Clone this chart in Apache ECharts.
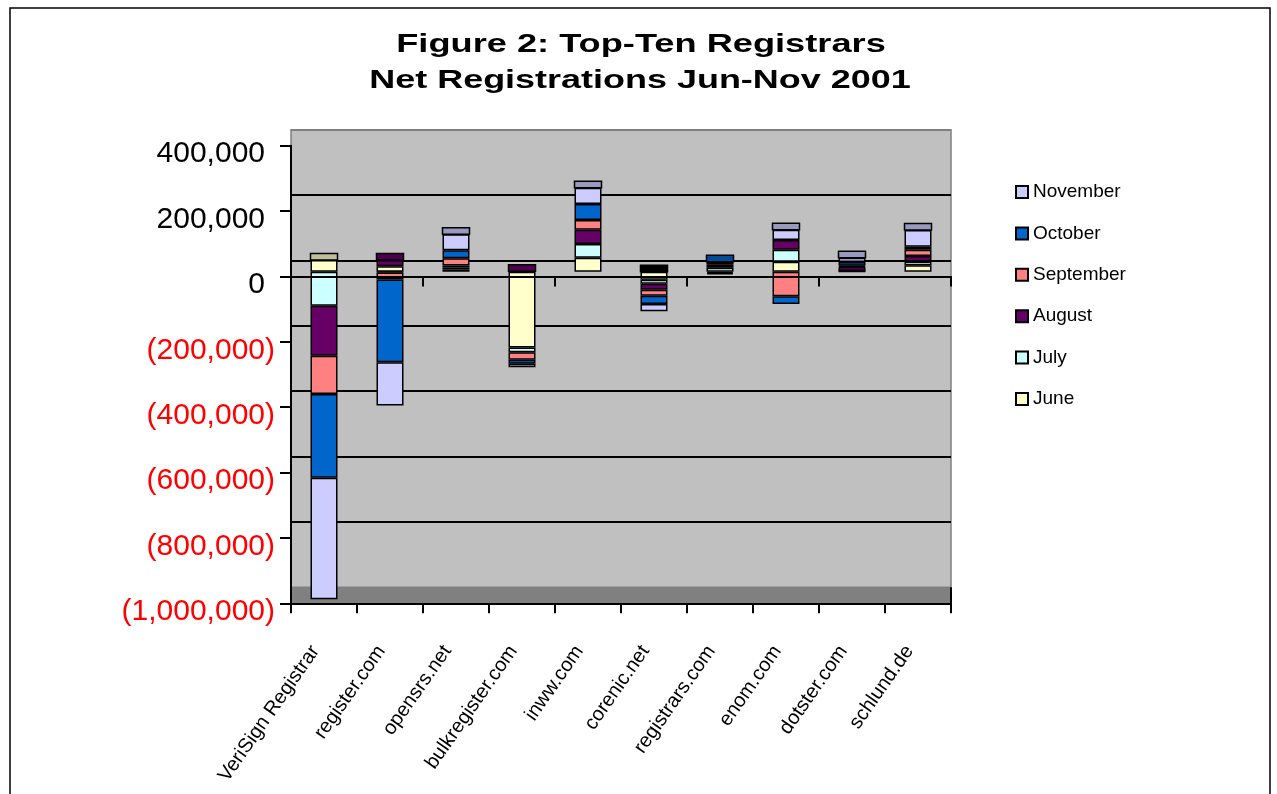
<!DOCTYPE html>
<html>
<head>
<meta charset="utf-8">
<script src="https://cdn.jsdelivr.net/npm/echarts@6/dist/echarts.min.js"></script>
<style>
html,body{margin:0;padding:0;background:#fff;}
#chart{width:1277px;height:794px;}
</style>
</head>
<body>
<div id="chart"></div>
<script>
// ---- data ----
const categories = ['VeriSign Registrar','register.com','opensrs.net','bulkregister.com','inww.com','corenic.net','registrars.com','enom.com','dotster.com','schlund.de'];
const months = ['June','July','August','September','October','November'];
const june      = [  36000,   17000,  7000, -232000, 43000, -24500,  -4000,  30600,  1000, 20000];
const july      = [-104000,   -2000,  6000,  -14000, 42000, -12000,  12000,  36700,  1000, 11300];
const august    = [-153000,   19000,  6000,    1500, 43700, -18400,   5500,  29700, 13000, 16800];
const september = [-117000,  -22000, 22300,  -23600, 29700, -18400,   5500, -75300,  3000, 19000];
const october   = [-256000, -253000, 24500,  -12200, 49000, -25400,   7500, -23600, 12000,  9500];
const november  = [-372000, -132500, 49000,  -10100, 49900, -22300,  -4000,  31500, 13000, 51100];
const yTicks = [-1000000, -800000, -600000, -400000, -200000, 0, 200000, 400000];

// ---- styles ----
const seriesValues = [june, july, august, september, october, november];
const colors    = ['#FFFFCC','#CCFFFF','#660066','#FF8080','#0066CC','#CCCCFF'];
const capColors = ['#BFBF99','#99BFBF','#4C004C','#BF6060','#004C99','#9999BF'];
const FONT = '"Liberation Sans", Arial, sans-serif';
const L = 291, W = 660, H = 457.6;
const BAR_W = 27, CAP_H = 6.5;

// top faces of the 3D columns (derived from the data)
const capData = categories.map((c, i) => {
  let pos = 0, top = -1;
  seriesValues.forEach((s, k) => { if (s[i] > 0) { pos += s[i]; top = k; } });
  return { value: [i, pos], color: top >= 0 ? capColors[top] : '#000000' };
});

function fmt(v) { return Math.abs(v).toLocaleString('en-US'); }

const chart = echarts.init(document.getElementById('chart'));
const option = {
  backgroundColor: '#ffffff',
  animation: false,
  graphic: [
    { type: 'rect', z: 0, shape: { x: 10, y: 8, width: 1260, height: 800 },
      style: { fill: 'none', stroke: '#000', lineWidth: 1.5 } },
    { type: 'rect', z: 1, shape: { x: L, y: 587.3, width: W, height: 16 },
      style: { fill: '#808080' } },
    { type: 'line', z: 6, shape: { x1: L + W, y1: 587.3, x2: L + W, y2: 603.3 },
      style: { stroke: '#000', lineWidth: 2 } },
    { type: 'text', z: 5, x: 641, y: 44.5, scaleX: 1.42,
      style: { text: 'Figure 2: Top-Ten Registrars', font: 'bold 25.5px ' + FONT, fill: '#000',
               textAlign: 'center', textVerticalAlign: 'middle', align: 'center', verticalAlign: 'middle' } },
    { type: 'text', z: 5, x: 640, y: 81, scaleX: 1.41,
      style: { text: 'Net Registrations Jun-Nov 2001', font: 'bold 25.5px ' + FONT, fill: '#000',
               textAlign: 'center', textVerticalAlign: 'middle', align: 'center', verticalAlign: 'middle' } }
  ],
  legend: {
    data: months.slice().reverse(),
    orient: 'vertical',
    left: 1010,
    top: 177,
    icon: 'rect',
    itemWidth: 12,
    itemHeight: 12,
    itemGap: 21.4,
    textStyle: { fontFamily: FONT, fontSize: 19, color: '#000', lineHeight: 20 }
  },
  grid: [
    { left: L, top: 129.7, width: W, height: H, show: true, backgroundColor: '#C0C0C0',
      borderColor: '#808080', borderWidth: 1.5, containLabel: false },
    { left: L, top: 145.7, width: W, height: H, containLabel: false },
    { left: L, top: 141.0, width: W, height: H, containLabel: false }
  ],
  xAxis: [
    { gridIndex: 0, type: 'category', data: categories, show: false },
    { gridIndex: 1, type: 'category', data: categories, position: 'bottom', z: 5,
      axisLine: { onZero: false, lineStyle: { color: '#000', width: 2 } },
      axisTick: { show: true, length: 10, lineStyle: { color: '#000', width: 2 } },
      axisLabel: { interval: 0, rotate: 55, margin: 32, fontSize: 20, fontFamily: FONT, color: '#000',
                   padding: [0, 15, 8, 0] },
      splitLine: { show: false } },
    { gridIndex: 1, type: 'category', data: categories, position: 'top', z: 10,
      axisLine: { onZero: true, onZeroAxisIndex: 1, lineStyle: { color: '#000', width: 2 } },
      axisTick: { show: true, inside: true, length: 10, lineStyle: { color: '#000', width: 2 } },
      axisLabel: { show: false }, splitLine: { show: false } },
    { gridIndex: 2, type: 'category', data: categories, show: false }
  ],
  yAxis: [
    { gridIndex: 0, type: 'value', min: yTicks[0], max: yTicks[yTicks.length - 1], interval: 200000,
      axisLine: { show: false }, axisTick: { show: false }, axisLabel: { show: false },
      splitLine: { show: true, lineStyle: { width: 2,
        color: ['rgba(0,0,0,0)', '#000', '#000', '#000', '#000', '#000', '#000', '#808080'] } } },
    { gridIndex: 1, type: 'value', min: yTicks[0], max: yTicks[yTicks.length - 1], interval: 200000, z: 5,
      axisLine: { show: true, lineStyle: { color: '#000', width: 2 } },
      axisTick: { show: true, length: 11, lineStyle: { color: '#000', width: 2 } },
      splitLine: { show: false },
      axisLabel: {
        margin: 16,
        padding: [17, 0, 0, 0],
        formatter: v => v < 0 ? '{n|(' + fmt(v) + ')}' : '{p|' + fmt(v) + '}',
        rich: {
          p: { fontSize: 30, fontFamily: FONT, color: '#000', padding: [0, 10, 0, 0] },
          n: { fontSize: 30, fontFamily: FONT, color: '#FF0000' }
        }
      } },
    { gridIndex: 2, type: 'value', min: yTicks[0], max: yTicks[yTicks.length - 1], interval: 200000, show: false,
      splitLine: { show: false } }
  ],
  series: months.map((m, k) => ({
    name: m,
    type: 'bar',
    stack: 'net',
    xAxisIndex: 3,
    yAxisIndex: 2,
    barWidth: BAR_W,
    clip: false,
    z: 2,
    itemStyle: { color: colors[k], borderColor: '#000', borderWidth: 1.5 },
    data: seriesValues[k]
  })).concat([{
    name: 'cap',
    type: 'custom',
    xAxisIndex: 3,
    yAxisIndex: 2,
    z: 3,
    clip: false,
    data: capData.map(d => d.value),
    renderItem: function (params, api) {
      const p = api.coord([api.value(0), api.value(1)]);
      return { type: 'rect',
        shape: { x: p[0] - BAR_W / 2, y: p[1] - CAP_H, width: BAR_W, height: CAP_H },
        style: { fill: capData[params.dataIndex].color, stroke: '#000', lineWidth: 1.5 } };
    }
  }])
};
chart.setOption(option);
</script>
</body>
</html>
